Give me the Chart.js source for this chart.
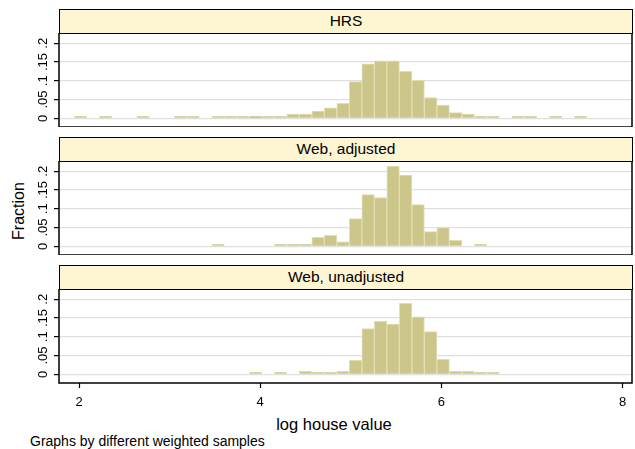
<!DOCTYPE html>
<html>
<head>
<meta charset="utf-8">
<script src="https://cdn.jsdelivr.net/npm/chart.js@4.4.0/dist/chart.umd.min.js"></script>
<style>
  body { margin: 0; background: #fff; width: 635px; height: 449px; overflow: hidden; position: relative;
         font-family: "Liberation Sans", Arial, Helvetica, sans-serif; color: #000; }
  .strip { position: absolute; left: 59px; width: 574px; height: 25px; box-sizing: border-box;
           border: 1.5px solid #000; background: #FEF5D3; text-align: center;
           font-size: 15.5px; line-height: 22px; }
  canvas { position: absolute; left: 0; }
  #ytitle { position: absolute; left: 19px; top: 211px; font-size: 16px; white-space: nowrap;
            transform: translate(-50%, -50%) rotate(-90deg); }
  #xtitle { position: absolute; left: 334px; top: 424px; font-size: 16.5px; white-space: nowrap;
            transform: translate(-50%, -50%); }
  #note { position: absolute; left: 30px; top: 441px; font-size: 14px; white-space: nowrap;
          transform: translateY(-50%); }
</style>
</head>
<body>
<div id="ytitle">Fraction</div>
<div id="xtitle">log house value</div>
<div id="note">Graphs by different weighted samples</div>

<script>
// Histogram bins shared by all three samples (log house value)
const binStart = 1.948;
const binWidth = 0.138;

// Fraction of each sample in each bin (null = empty bin)
const hrsFraction = [
  0.003, null, 0.003, null, null, 0.003, null, null, 0.003, 0.003,
  null, 0.003, 0.003, 0.003, 0.006, 0.003, 0.003, 0.011, 0.011, 0.0195,
  0.028, 0.040, 0.098, 0.145, 0.153, 0.153, 0.125, 0.101, 0.055, 0.035,
  0.015, 0.011, 0.003, 0.003, null, 0.003, 0.003, null, 0.003, null,
  0.003
];
const webAdjustedFraction = [
  null, null, null, null, null, null, null, null, null, null,
  null, 0.003, null, null, null, null, 0.003, 0.003, 0.003, 0.024,
  0.029, 0.012, 0.074, 0.138, 0.130, 0.214, 0.190, 0.111, 0.039, 0.050,
  0.016, null, 0.005, null, null, null, null, null, null, null,
  null
];
const webUnadjustedFraction = [
  null, null, null, null, null, null, null, null, null, null,
  null, null, null, null, 0.003, null, 0.003, null, 0.008, 0.0045,
  0.0045, 0.008, 0.037, 0.122, 0.141, 0.134, 0.189, 0.153, 0.114, 0.040,
  0.008, 0.008, 0.005, 0.003, null, null, null, null, null, null,
  null
];

const panelTitles = ['HRS', 'Web, adjusted', 'Web, unadjusted'];
const panelSeries = [hrsFraction, webAdjustedFraction, webUnadjustedFraction];

// Axis ticks
const xTickValues = [2, 4, 6, 8];
const yTickValues = [0, 0.05, 0.1, 0.15, 0.2];
const yTickLabels = ['0', '.05', '.1', '.15', '.2'];

// Layout
const plotLeft = 59, plotRight = 632;
const plotTops = [33, 161, 289];
const plotHeight = 94;
const stripHeight = 24;
const xAxisHeight = 34;
const xMin = 1.7792, xMax = 8.1037;
const yMin = -0.0232, yMax = 0.2275;

const barFill = '#CCC68A';
const barEdge = '#E3DEB2';
const fontFamily = '"Liberation Sans", Arial, Helvetica, sans-serif';

// Frame around each plot region and rotated y tick labels
const frameAndLabels = {
  id: 'frameAndLabels',
  afterDraw(chart) {
    const { ctx, chartArea: a, scales: { y } } = chart;
    ctx.save();
    ctx.strokeStyle = '#000';
    ctx.lineWidth = 1.5;
    ctx.strokeRect(a.left, a.top, a.right - a.left, a.bottom - a.top);
    ctx.fillStyle = '#000';
    ctx.font = '13px ' + fontFamily;
    ctx.textAlign = 'center';
    ctx.textBaseline = 'middle';
    yTickValues.forEach((v, i) => {
      const py = y.getPixelForValue(v);
      ctx.save();
      ctx.translate(43, py);
      ctx.rotate(-Math.PI / 2);
      ctx.fillText(yTickLabels[i], 0, 0);
      ctx.restore();
    });
    ctx.restore();
  }
};

panelSeries.forEach((series, p) => {
  const isBottom = p === panelSeries.length - 1;

  const strip = document.createElement('div');
  strip.className = 'strip';
  strip.style.top = (plotTops[p] - stripHeight) + 'px';
  strip.textContent = panelTitles[p];
  document.body.appendChild(strip);

  const canvas = document.createElement('canvas');
  const h = plotHeight + (isBottom ? xAxisHeight : 0);
  canvas.width = 635;
  canvas.height = h;
  canvas.style.top = plotTops[p] + 'px';
  document.body.appendChild(canvas);

  const points = series.map((v, i) => ({ x: binStart + (i + 0.5) * binWidth, y: v }));

  new Chart(canvas, {
    type: 'bar',
    data: {
      datasets: [{
        data: points,
        backgroundColor: barFill,
        borderColor: barEdge,
        borderWidth: 1,
        minBarLength: 2,
        barPercentage: 1,
        categoryPercentage: 1
      }]
    },
    options: {
      responsive: false,
      animation: false,
      devicePixelRatio: 1,
      layout: { padding: { left: 0, right: 635 - plotRight, top: 0, bottom: 0 } },
      plugins: { legend: { display: false }, tooltip: { enabled: false } },
      scales: {
        x: {
          type: 'linear',
          min: xMin,
          max: xMax,
          offset: false,
          display: isBottom,
          afterBuildTicks: s => { s.ticks = xTickValues.map(v => ({ value: v })); },
          afterFit: s => { s.height = isBottom ? xAxisHeight : 0; },
          grid: { offset: false, drawOnChartArea: false, drawTicks: true, tickLength: 5, tickColor: '#000', tickWidth: 1.2 },
          border: { display: false },
          ticks: { color: '#000', font: { family: fontFamily, size: 13 }, padding: 7, maxRotation: 0 }
        },
        y: {
          type: 'linear',
          min: yMin,
          max: yMax,
          afterBuildTicks: s => { s.ticks = yTickValues.map(v => ({ value: v })); },
          afterFit: s => { s.width = plotLeft; },
          grid: { color: '#E0E0E0', lineWidth: 1.2, drawTicks: true, tickLength: 5, tickColor: '#000', tickWidth: 1.2 },
          border: { display: false },
          ticks: { display: false }
        }
      }
    },
    plugins: [frameAndLabels]
  });
});
</script>
</body>
</html>
